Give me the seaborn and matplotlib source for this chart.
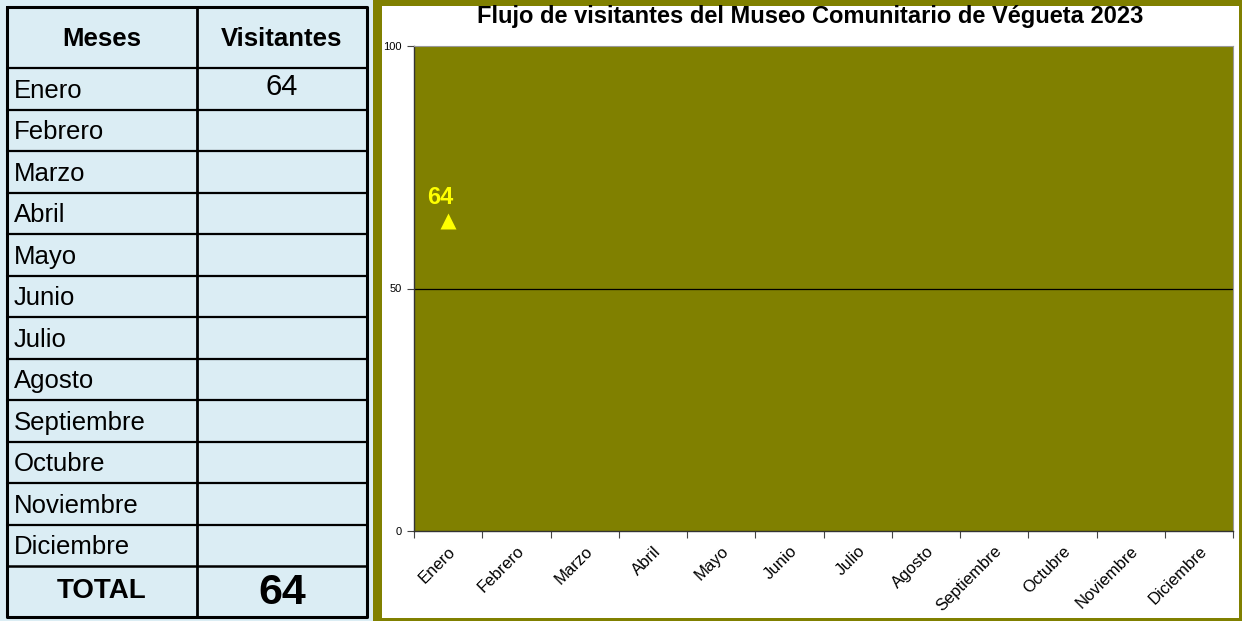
import matplotlib
matplotlib.use("Agg")
import matplotlib.pyplot as plt
import seaborn as sns
import pandas as pd
import numpy as np
from matplotlib.patches import Rectangle

meses = ["Enero", "Febrero", "Marzo", "Abril", "Mayo", "Junio", "Julio",
         "Agosto", "Septiembre", "Octubre", "Noviembre", "Diciembre"]
visitantes = [64, None, None, None, None, None, None, None, None, None, None, None]
total = 64
titulo = "Flujo de visitantes del Museo Comunitario de Végueta 2023"
yticks = [0, 50, 100]

W, H = 1242, 621
azul = "#dbedf4"
oliva = "#808000"

sns.set_style("white")
plt.rcParams["font.family"] = ["Liberation Sans", "DejaVu Sans"]
plt.rcParams["text.color"] = "black"
plt.rcParams["xtick.color"] = "black"
plt.rcParams["ytick.color"] = "black"

fig = plt.figure(figsize=(W / 100, H / 100), dpi=100, facecolor=azul)

# --- tabla y marco (coordenadas en pixeles) ---
tab = fig.add_axes([0, 0, 1, 1], zorder=0)
tab.set_xlim(0, W)
tab.set_ylim(H, 0)
tab.axis("off")
tab.patch.set_alpha(0)

tab.add_patch(Rectangle((373, 0), W - 373, H, facecolor=oliva, edgecolor="none"))
tab.add_patch(Rectangle((382, 6), 1239 - 382, 618 - 6, facecolor="white", edgecolor="none"))

x0, xm, x1 = 7, 197, 367
y_head = 68
row_h = 41.5
y_tot = y_head + row_h * len(meses)
y_end = 617

tab.text((x0 + xm) / 2, (7 + y_head) / 2 + 1, "Meses", ha="center", va="center",
         fontsize=18.5, fontweight="bold")
tab.text((xm + x1) / 2, (7 + y_head) / 2 + 1, "Visitantes", ha="center", va="center",
         fontsize=18.5, fontweight="bold")
for i, (m, v) in enumerate(zip(meses, visitantes)):
    yc = y_head + row_h * (i + 0.5)
    tab.text(x0 + 7, yc + 2, m, ha="left", va="center", fontsize=18.5)
    if v is not None:
        tab.text((xm + x1) / 2, yc - 2, str(v), ha="center", va="center", fontsize=21)
    tab.plot([x0, x1], [y_head + row_h * i, y_head + row_h * i], color="black", lw=1.6)
tab.plot([x0, x1], [y_tot, y_tot], color="black", lw=1.8)
tab.text((x0 + xm) / 2, (y_tot + y_end) / 2, "TOTAL", ha="center", va="center",
         fontsize=20, fontweight="bold")
tab.text((xm + x1) / 2, (y_tot + y_end) / 2 + 1, str(total), ha="center", va="center",
         fontsize=31, fontweight="bold")
tab.plot([x0, x1, x1, x0, x0], [7, 7, y_end, y_end, 7], color="black", lw=2.2)
tab.plot([xm, xm], [7, y_end], color="black", lw=2)

fig.text(810 / W, 1 - 16 / H, titulo, ha="center", va="center",
         fontsize=17, fontweight="bold")

# --- grafico ---
ax = fig.add_axes([414 / W, (H - 531) / H, (1233 - 414) / W, (531 - 46) / H], zorder=2)
ax.set_facecolor(oliva)
df = pd.DataFrame({"Mes": meses,
                   "Visitantes": [np.nan if v is None else v for v in visitantes]})
sns.stripplot(data=df, x="Mes", y="Visitantes", order=meses, jitter=False,
              marker="^", color="#ffff00", size=11.5, linewidth=0, ax=ax, zorder=5)

for i, v in enumerate(visitantes):
    if v is not None:
        ax.annotate(str(v), (i, v), xytext=(-6, 8), textcoords="offset points",
                    ha="center", va="bottom", color="#ffff00", fontsize=17,
                    fontweight="bold")

ax.set_xlim(-0.5, len(meses) - 0.5)
ax.set_ylim(0, 100)
ax.set_yticks(yticks)
ax.set_yticklabels([str(t) for t in yticks], fontsize=8)
ax.set_xticks(range(len(meses)))
ax.set_xticklabels(meses, rotation=45, ha="right", rotation_mode="anchor", fontsize=12)
ax.set_xticks(np.arange(-0.5, len(meses)), minor=True)
ax.tick_params(axis="x", which="major", length=0, pad=9)
ax.tick_params(axis="x", which="minor", length=5, width=0.8, color="#444444",
               direction="out", bottom=True)
ax.tick_params(axis="y", length=5, width=0.8, color="#444444", direction="out",
               pad=4, left=True)
ax.axhline(50, color="black", lw=0.9, zorder=1)
ax.set_xlabel("")
ax.set_ylabel("")
for s in ["top", "right"]:
    ax.spines[s].set_color("#999999")
    ax.spines[s].set_linewidth(0.8)
for s in ["left", "bottom"]:
    ax.spines[s].set_color("#333333")
    ax.spines[s].set_linewidth(1)

plt.savefig("out.png", dpi=100, facecolor=azul)
